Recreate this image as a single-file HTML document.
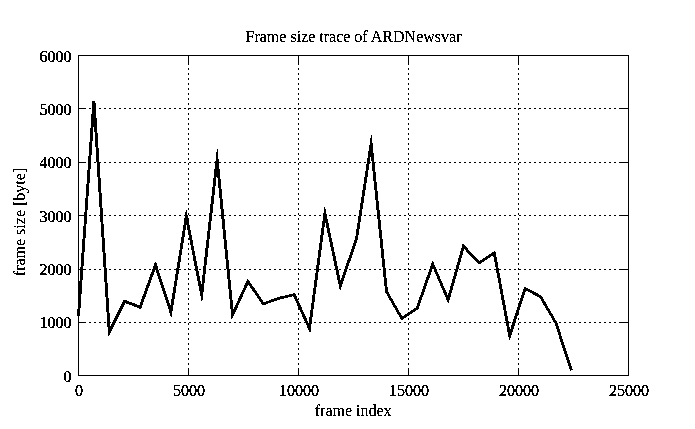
<!DOCTYPE html>
<html><head><meta charset="utf-8"><title>Frame size trace of ARDNewsvar</title>
<style>
html,body{margin:0;padding:0;background:#fff;}
body{width:695px;height:429px;overflow:hidden;}
svg{display:block;}
text{font-family:"Liberation Serif",serif;font-size:16px;fill:#000;}
</style></head><body>
<svg width="695" height="429" viewBox="0 0 695 429">
<defs><filter id="bw" x="0" y="0" width="695" height="429" filterUnits="userSpaceOnUse" color-interpolation-filters="sRGB">
<feColorMatrix type="saturate" values="0"/>
<feComponentTransfer><feFuncR type="discrete" tableValues="0 0 0 1"/><feFuncG type="discrete" tableValues="0 0 0 1"/><feFuncB type="discrete" tableValues="0 0 0 1"/></feComponentTransfer>
</filter>
<filter id="bwt" x="0" y="0" width="695" height="429" filterUnits="userSpaceOnUse" color-interpolation-filters="sRGB">
<feComponentTransfer><feFuncA type="discrete" tableValues="0 0 1 1 1"/></feComponentTransfer>
</filter></defs>
<g filter="url(#bw)">
<rect x="0" y="0" width="695" height="429" fill="#fff"/>
<g stroke="#000" stroke-width="1" stroke-dasharray="2 3" fill="none" shape-rendering="crispEdges">
<line x1="188.5" y1="375" x2="188.5" y2="56"/>
<line x1="298.5" y1="375" x2="298.5" y2="56"/>
<line x1="408.5" y1="375" x2="408.5" y2="56"/>
<line x1="518.5" y1="375" x2="518.5" y2="56"/>
<line x1="79" y1="322.5" x2="628" y2="322.5"/>
<line x1="79" y1="269.5" x2="628" y2="269.5"/>
<line x1="79" y1="215.5" x2="628" y2="215.5"/>
<line x1="79" y1="162.5" x2="628" y2="162.5"/>
<line x1="79" y1="108.5" x2="628" y2="108.5"/>
</g>
<g stroke="#000" stroke-width="1" fill="none" shape-rendering="crispEdges">
<line x1="188.5" y1="376" x2="188.5" y2="368"/>
<line x1="188.5" y1="55" x2="188.5" y2="63"/>
<line x1="298.5" y1="376" x2="298.5" y2="368"/>
<line x1="298.5" y1="55" x2="298.5" y2="63"/>
<line x1="408.5" y1="376" x2="408.5" y2="368"/>
<line x1="408.5" y1="55" x2="408.5" y2="63"/>
<line x1="518.5" y1="376" x2="518.5" y2="368"/>
<line x1="518.5" y1="55" x2="518.5" y2="63"/>
<line x1="78" y1="322.5" x2="86" y2="322.5"/>
<line x1="629" y1="322.5" x2="621" y2="322.5"/>
<line x1="78" y1="269.5" x2="86" y2="269.5"/>
<line x1="629" y1="269.5" x2="621" y2="269.5"/>
<line x1="78" y1="215.5" x2="86" y2="215.5"/>
<line x1="629" y1="215.5" x2="621" y2="215.5"/>
<line x1="78" y1="162.5" x2="86" y2="162.5"/>
<line x1="629" y1="162.5" x2="621" y2="162.5"/>
<line x1="78" y1="108.5" x2="86" y2="108.5"/>
<line x1="629" y1="108.5" x2="621" y2="108.5"/>
<rect x="78.5" y="55.5" width="550.0" height="320.0"/>
</g>
<g fill="#000" stroke="none">
<polyline fill="none" stroke="#000" stroke-width="2.4" stroke-linejoin="miter" stroke-miterlimit="12" stroke-linecap="butt" points="78.50,315.50 93.90,101.10 109.30,332.00 124.70,301.30 140.10,307.20 155.50,265.00 170.90,312.10 186.30,216.40 201.70,294.70 217.10,159.30 232.50,315.00 247.90,281.40 263.30,303.80 278.70,298.30 294.10,294.70 309.50,328.50 324.90,213.50 340.30,285.80 356.50,238.70 371.10,143.70 386.50,291.70 401.90,318.60 417.30,308.10 432.70,264.10 448.10,299.70 463.50,246.20 478.90,262.90 494.30,253.00 509.70,335.70 525.10,288.40 540.50,296.60 555.90,323.00 571.30,370.10"/>
</g>
</g>
<g filter="url(#bwt)">
<text x="353.5" y="42" text-anchor="middle">Frame size trace of ARDNewsvar</text>
<text x="353.2" y="416" text-anchor="middle">frame index</text>
<text transform="translate(25,222) rotate(-90)" text-anchor="middle">frame size [byte]</text>
<g stroke="#000" stroke-width="0.2" stroke-linejoin="round">
<text x="79.00" y="396.00" text-anchor="middle">0</text>
<text x="189.00" y="396.00" text-anchor="middle">5000</text>
<text x="299.00" y="396.00" text-anchor="middle">10000</text>
<text x="409.00" y="396.00" text-anchor="middle">15000</text>
<text x="519.00" y="396.00" text-anchor="middle">20000</text>
<text x="629.00" y="396.00" text-anchor="middle">25000</text>
<text x="71.50" y="381.50" text-anchor="end">0</text>
<text x="71.50" y="328.17" text-anchor="end">1000</text>
<text x="71.50" y="274.83" text-anchor="end">2000</text>
<text x="71.50" y="221.50" text-anchor="end">3000</text>
<text x="71.50" y="168.17" text-anchor="end">4000</text>
<text x="71.50" y="114.83" text-anchor="end">5000</text>
<text x="71.50" y="61.50" text-anchor="end">6000</text>
</g>
</g>
</svg>
</body></html>
